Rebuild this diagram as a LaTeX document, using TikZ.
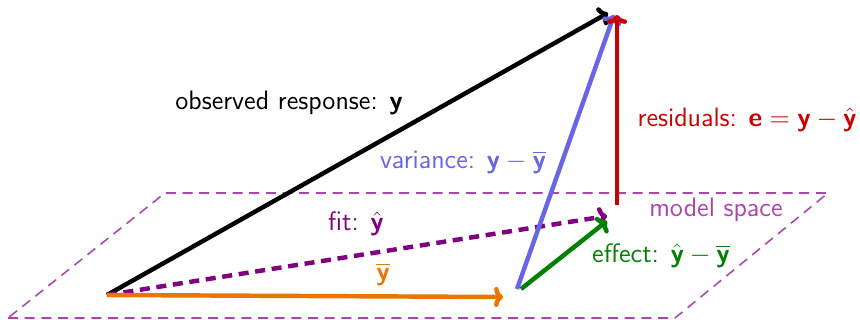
\documentclass[tikz,border=0pt]{standalone}
\usepackage{amsmath}
\usetikzlibrary{arrows.meta,positioning,calc}
\definecolor{obscol}{RGB}{0,0,0}
\definecolor{meancol}{RGB}{232,118,0}
\definecolor{fitcol}{RGB}{128,0,128}
\definecolor{varcol}{RGB}{102,102,230}
\definecolor{rescol}{RGB}{204,0,0}
\definecolor{effcol}{RGB}{0,128,0}
\definecolor{planecol}{RGB}{170,70,170}
\tikzset{
  vecarrow/.style={-{To[length=4pt,width=9pt]}, line width=2pt},
  fitarrow/.style={vecarrow, dash pattern=on 4.5pt off 3pt},
  planeline/.style={line width=0.7pt, color=planecol, dash pattern=on 4.5pt off 3pt},
  veclabel/.style={font=\sffamily\large, inner sep=1pt},
}
\newcommand{\vy}{\textbf{\textsf{y}}}
\newcommand{\ve}{\textbf{\textsf{e}}}
\newcommand{\vyhat}{\hat{\vy}}
\newcommand{\vybar}{\overline{\vy}}

\begin{document}
\begin{tikzpicture}[x=0.45pt, y=-0.45pt]
  \useasboundingbox (0,0) rectangle (860,320);

  % model space
  \coordinate (p1) at (8,318);
  \coordinate (p2) at (675,318);
  \coordinate (p3) at (828,193);
  \coordinate (p4) at (165,193);
  \draw[planeline] (p1) -- (p2) -- (p3) -- (p4) -- cycle;

  % points
  \coordinate (O) at (107,295);
  \coordinate (Y) at (608,13);
  \coordinate (Ybar) at (503,297);
  \coordinate (Yhat) at (607,216);
  \coordinate (Ybarv) at (517,289);
  \coordinate (Ybare) at (521,289);
  \coordinate (Yhate) at (607,221);
  \coordinate (Yv) at (614,15);
  \coordinate (Yhatr) at (617,205);
  \coordinate (Yr) at (617,15);

  % vectors
  \draw[vecarrow, obscol] (O) -- (Y);
  \draw[fitarrow, fitcol] (O) -- (Yhat);
  \draw[vecarrow, meancol] (O) -- (Ybar);
  \draw[vecarrow, effcol] (Ybare) -- (Yhate);
  \draw[vecarrow, varcol] (Ybarv) -- (Yv);
  \draw[vecarrow, rescol] (Yhatr) -- (Yr);

  % labels
  \node[veclabel, obscol] (lobs) at (289,103) {observed response: $\vy$};
  \node[veclabel, varcol] (lvar) at (463,162) {variance: $\vy-\vybar$};
  \node[veclabel, rescol, anchor=west] (lres) at (635,120) {residuals: $\ve=\vy-\vyhat$};
  \node[veclabel, planecol] (lplane) at (716,210) {model space};
  \node[veclabel, fitcol] (lfit) at (356,224) {fit: $\vyhat$};
  \node[veclabel, meancol] (lmean) at (383,274) {$\vybar$};
  \node[veclabel, effcol] (leff) at (661,256) {effect: $\vyhat-\vybar$};
\end{tikzpicture}
\end{document}
